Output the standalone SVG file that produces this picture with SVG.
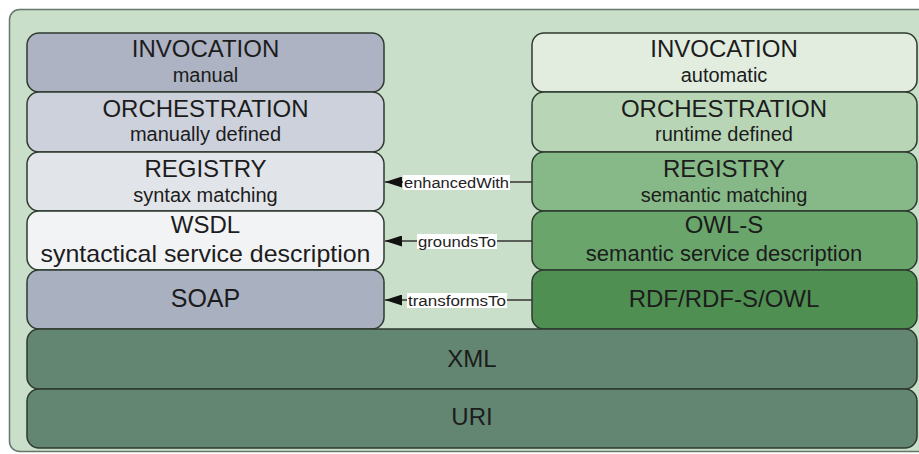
<svg xmlns="http://www.w3.org/2000/svg" width="919" height="454" viewBox="0 0 919 454">
<style>
.box{stroke:#2e3a2f;stroke-width:1.5}
.t{font-family:"Liberation Sans",Arial,sans-serif;fill:#1c1c1c;text-anchor:middle}
.h{font-size:24px}
.s{font-size:20px}
.lbl{font-family:"Liberation Sans",Arial,sans-serif;font-size:14px;fill:#222;text-anchor:middle}
.lb{fill:#ffffff}
.c{stroke:#333;stroke-width:1.3;fill:none}
</style>
<defs>
<marker id="arr" viewBox="0 0 10 10" preserveAspectRatio="none" refX="10" refY="5" markerWidth="17" markerHeight="11" markerUnits="userSpaceOnUse" orient="auto">
<path d="M0,0 L10,5 L0,10 z" fill="#111"/>
</marker>
</defs>
<rect x="9.5" y="9.5" width="925" height="442" rx="10" fill="#c9dfca" stroke="#66766a" stroke-width="1.5"/>

<g id="left-invocation"><rect class="box" x="27" y="33" width="357" height="59" rx="12" fill="#adb3c3"/><text class="t h" x="205.5" y="57">INVOCATION</text><text class="t s" x="205.5" y="82">manual</text></g>
<g id="left-orchestration"><rect class="box" x="27" y="92" width="357" height="60" rx="12" fill="#ccd1db"/><text class="t h" x="205.5" y="117">ORCHESTRATION</text><text class="t s" x="205.5" y="141">manually defined</text></g>
<g id="left-registry"><rect class="box" x="27" y="152" width="357" height="59" rx="12" fill="#e1e4e8"/><text class="t h" x="205.5" y="177">REGISTRY</text><text class="t s" x="205.5" y="202">syntax matching</text></g>
<g id="wsdl"><rect class="box" x="27" y="211" width="357" height="59" rx="12" fill="#f2f3f5"/><text class="t h" x="205.5" y="233">WSDL</text><text class="t h" x="205.5" y="262" textLength="330" lengthAdjust="spacingAndGlyphs">syntactical service description</text></g>
<g id="soap"><rect class="box" x="27" y="270" width="357" height="59" rx="12" fill="#a9b0c0"/><text class="t h" x="205.5" y="307" style="font-size:25px">SOAP</text></g>

<g id="right-invocation"><rect class="box" x="532" y="33" width="385" height="59" rx="12" fill="#e2ede0"/><text class="t h" x="724" y="57">INVOCATION</text><text class="t s" x="724" y="82">automatic</text></g>
<g id="right-orchestration"><rect class="box" x="532" y="92" width="385" height="60" rx="12" fill="#b8d6b6"/><text class="t h" x="724" y="117">ORCHESTRATION</text><text class="t s" x="724" y="141">runtime defined</text></g>
<g id="right-registry"><rect class="box" x="532" y="152" width="385" height="59" rx="12" fill="#86b987"/><text class="t h" x="724" y="177">REGISTRY</text><text class="t s" x="724" y="202">semantic matching</text></g>
<g id="owls"><rect class="box" x="532" y="211" width="385" height="59" rx="12" fill="#6aa66c"/><text class="t h" x="724" y="233">OWL-S</text><text class="t s" x="724" y="261" style="font-size:22px">semantic service description</text></g>
<g id="rdf"><rect class="box" x="532" y="270" width="385" height="59" rx="12" fill="#4f8f52"/><text class="t h" x="724" y="307">RDF/RDF-S/OWL</text></g>

<g id="xml"><rect class="box" x="27" y="329" width="890" height="60" rx="12" fill="#628672"/><text class="t h" x="472" y="367">XML</text></g>
<g id="uri"><rect class="box" x="27" y="389" width="890" height="59" rx="12" fill="#628672"/><text class="t h" x="472" y="425">URI</text></g>

<g id="connectors">
<path class="c" d="M532,182 H385" marker-end="url(#arr)"/>
<rect class="lb" x="403" y="175" width="107" height="15"/>
<text class="lbl" x="456.5" y="187.5" textLength="105" lengthAdjust="spacingAndGlyphs">enhancedWith</text>
<path class="c" d="M532,241 H385" marker-end="url(#arr)"/>
<rect class="lb" x="417" y="234" width="80" height="15"/>
<text class="lbl" x="457" y="246.5" textLength="78" lengthAdjust="spacingAndGlyphs">groundsTo</text>
<path class="c" d="M532,300 H385" marker-end="url(#arr)"/>
<rect class="lb" x="407" y="293" width="100" height="15"/>
<text class="lbl" x="457" y="305.5" textLength="98" lengthAdjust="spacingAndGlyphs">transformsTo</text>
</g>
</svg>
